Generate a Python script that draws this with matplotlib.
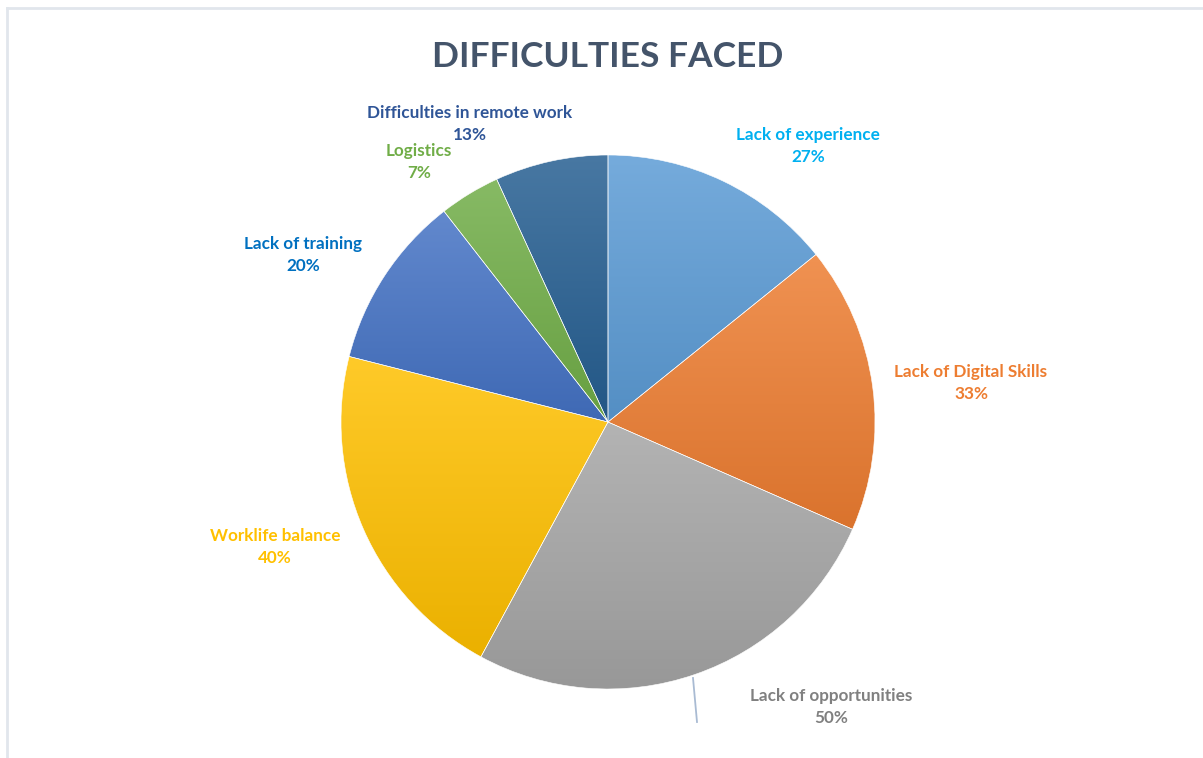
import matplotlib
matplotlib.use("Agg")
import matplotlib.pyplot as plt
import numpy as np
from matplotlib.colors import to_rgb

# data: difficulty categories and share reported
categorias = ["Lack of experience", "Lack of Digital Skills", "Lack of opportunities",
              "Worklife balance", "Lack of training", "Logistics",
              "Difficulties in remote work"]
valores = [27, 33, 50, 40, 20, 7, 13]

# slice colours and label colours
colores = ["#5B9BD5", "#ED7D31", "#A5A5A5", "#FFC000", "#4472C4", "#70AD47", "#255E91"]
colores_txt = ["#00B0F0", "#ED7D31", "#808080", "#FFC000", "#0070C0", "#70AD47", "#2F5597"]

# label centres in pixel units (x from left, y from top)
pos_etiquetas = [(808, 146), (971, 383), (831, 707), (275, 547),
                 (303, 255), (419, 162), (470, 124)]

W, H = 1203, 758
centro = (608, H - 422)
radio = 267

fig = plt.figure(figsize=(W / 100, H / 100), dpi=100)
ax = fig.add_axes([0, 0, 1, 1])

wedges, _ = ax.pie(valores, startangle=90, counterclock=False, center=centro,
                   radius=radio, colors=colores,
                   wedgeprops=dict(edgecolor="white", linewidth=0.4))
ax.set_xlim(0, W)
ax.set_ylim(0, H)
ax.set_aspect("auto")
ax.axis("off")


def degradado(color, n=256):
    c = np.array(to_rgb(color))
    arriba = c + (1 - c) * 0.16
    abajo = c * 0.92
    t = np.linspace(0, 1, n)[:, None]
    return (arriba * (1 - t) + abajo * t)[:, None, :]


# vertical gradient fill per slice, clipped to the wedge
for w, col in zip(wedges, colores):
    v = w.get_path().vertices
    x0, x1 = v[:, 0].min(), v[:, 0].max()
    y0, y1 = v[:, 1].min(), v[:, 1].max()
    im = ax.imshow(degradado(col), extent=(x0, x1, y0, y1), origin="upper",
                   aspect="auto", interpolation="bilinear", zorder=0)
    im.set_clip_path(w)
    w.set_facecolor("none")
    w.set_zorder(1)
ax.set_xlim(0, W)
ax.set_ylim(0, H)

# leader line for the bottom label
ax.plot([693, 697], [H - 678, H - 722], color="#A9BBD3", lw=1.3, zorder=2)

for cat, val, (px, py), ct in zip(categorias, valores, pos_etiquetas, colores_txt):
    ax.text(px, H - py, f"{cat}\n{val}%", ha="center", va="center", color=ct,
            fontsize=12.3, fontweight="bold", family="Lato", linespacing=1.5)

fig.text(608 / W, 1 - 57 / H, "DIFFICULTIES FACED", ha="center", va="center",
         fontsize=25.5, fontweight="bold", family="Lato", color="#44546A")

# chart frame (top and left edges)
ax.plot([7, W], [H - 8, H - 8], color="#E1E6EC", lw=2, zorder=3, clip_on=False)
ax.plot([7, 7], [H - 8, 0], color="#E1E6EC", lw=2, zorder=3, clip_on=False)

fig.savefig("out.png", dpi=100)
